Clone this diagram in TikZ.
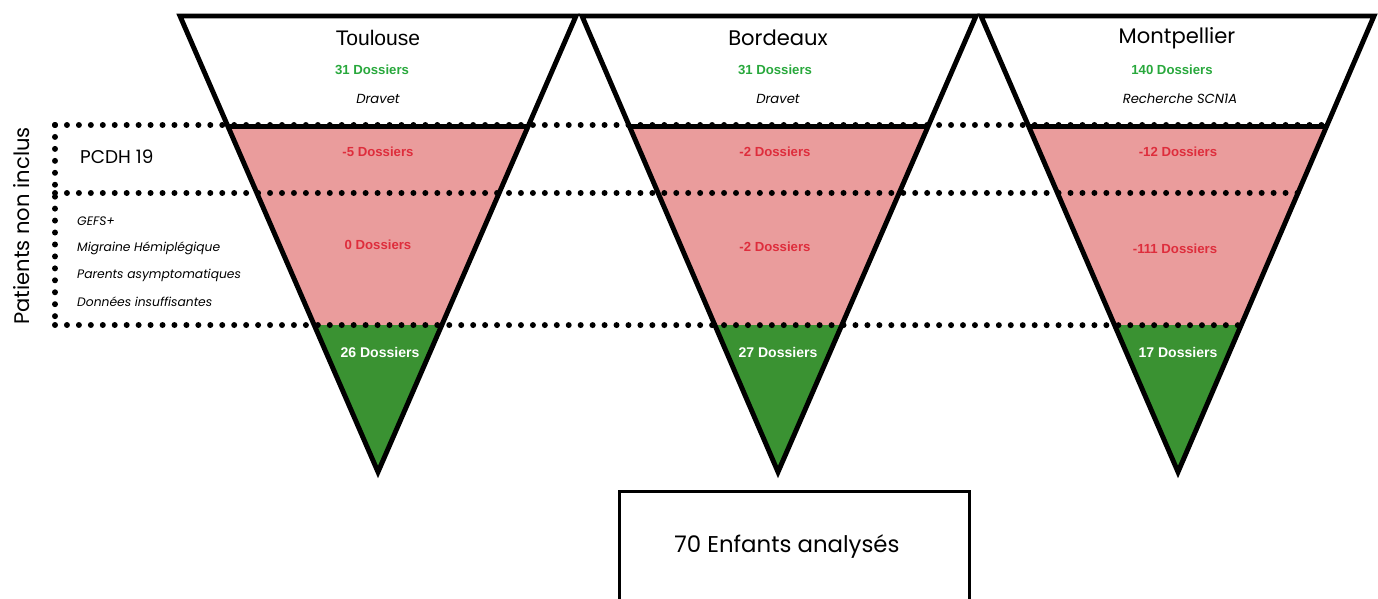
\documentclass[tikz,border=0pt]{standalone}
\usepackage{fontspec}
\setmainfont{Liberation Sans}
\newfontfamily\geo{Poppins}
\usetikzlibrary{calc}
\definecolor{rougepale}{RGB}{234,156,156}
\definecolor{rougetexte}{RGB}{222,45,60}
\definecolor{vertfonce}{RGB}{58,146,50}
\definecolor{verttexte}{RGB}{40,168,60}

\begin{document}
\begin{tikzpicture}[x=0.02cm,y=-0.02cm]
    \useasboundingbox (0,0) rectangle (1378,598);
    \clip (0,0) rectangle (1378,598);

    %%%%%%%%%%%%%%%%%%%%%%%%%%%%%%%%%%%%%% Entonnoirs
    \coordinate (A1) at (180,16);
    \coordinate (B1) at (576,16);
    \coordinate (C1) at (378,472);
    \coordinate (A2) at (582,16);
    \coordinate (B2) at (976,16);
    \coordinate (C2) at (778,472);
    \coordinate (A3) at (981,16);
    \coordinate (B3) at (1374,16);
    \coordinate (C3) at (1178,472);

    \tikzstyle{exclus}=[fill=rougepale]
    \tikzstyle{inclus}=[fill=vertfonce]
    \fill[exclus] ($(A1)!0.243!(C1)$)--($(B1)!0.243!(C1)$)--($(B1)!0.678!(C1)$)--($(A1)!0.678!(C1)$)--cycle;
    \fill[exclus] ($(A2)!0.243!(C2)$)--($(B2)!0.243!(C2)$)--($(B2)!0.678!(C2)$)--($(A2)!0.678!(C2)$)--cycle;
    \fill[exclus] ($(A3)!0.243!(C3)$)--($(B3)!0.243!(C3)$)--($(B3)!0.678!(C3)$)--($(A3)!0.678!(C3)$)--cycle;

    \fill[inclus] ($(A1)!0.678!(C1)$)--($(B1)!0.678!(C1)$)--(C1)--cycle;
    \fill[inclus] ($(A2)!0.678!(C2)$)--($(B2)!0.678!(C2)$)--(C2)--cycle;
    \fill[inclus] ($(A3)!0.678!(C3)$)--($(B3)!0.678!(C3)$)--(C3)--cycle;

    %%%%%%%%%%%%%%%%%%%%%%%%%%%%%%%%%%%%%% Pointilles
    \tikzstyle{pointille}=[line width=3.4pt,line cap=round,dash pattern=on 0pt off 6.8pt]
    \draw[pointille] (55,125)--($(B3)!0.239!(C3)$);
    \draw[pointille] (55,193)--($(B3)!0.388!(C3)$);
    \draw[pointille] (55,325)--($(B3)!0.678!(C3)$);
    \draw[pointille] (55,125)--(55,325);

    %%%%%%%%%%%%%%%%%%%%%%%%%%%%%%%%%%%%%% Contours
    \tikzstyle{bord}=[line width=2.8pt]
    \draw[bord] ($(A1)!0.243!(C1)$)--($(B1)!0.243!(C1)$);
    \draw[bord] ($(A2)!0.243!(C2)$)--($(B2)!0.243!(C2)$);
    \draw[bord] ($(A3)!0.243!(C3)$)--($(B3)!0.243!(C3)$);
    \draw[bord] (A1)--(B1)--(C1)--cycle;
    \draw[bord] (A2)--(B2)--(C2)--cycle;
    \draw[bord] (A3)--(B3)--(C3)--cycle;

    %%%%%%%%%%%%%%%%%%%%%%%%%%%%%%%%%%%%%% Textes
    \tikzstyle{ville}=[font=\fontsize{12}{14}\selectfont]
    \tikzstyle{total}=[text=verttexte,font=\bfseries\fontsize{7.5}{9}\selectfont]
    \tikzstyle{motif}=[font=\geo\itshape\fontsize{7.5}{9}\selectfont]
    \tikzstyle{retire}=[text=rougetexte,font=\bfseries\fontsize{7.5}{9}\selectfont]
    \tikzstyle{reste}=[text=white,font=\bfseries\fontsize{8}{10}\selectfont]
    \tikzstyle{critere}=[anchor=west,font=\geo\itshape\fontsize{7}{9}\selectfont]

    \node[ville] (toulouse) at (378,38) {Toulouse};
    \node[ville,font=\geo\fontsize{12}{14}\selectfont] (bordeaux) at (778,38) {Bordeaux};
    \node[ville,font=\geo\fontsize{12}{14}\selectfont] (montpellier) at (1177,38) {Montpellier};

    \node[total] (totT) at (372,70) {31 Dossiers};
    \node[total] (totB) at (775,70) {31 Dossiers};
    \node[total] (totM) at (1172,70) {140 Dossiers};

    \node[motif] (motT) at (378,99) {Dravet};
    \node[motif] (motB) at (778,99) {Dravet};
    \node[motif] (motM) at (1180,99) {Recherche SCN1A};

    \node[retire] (pcdhT) at (378,152) {-5 Dossiers};
    \node[retire] (pcdhB) at (775,152) {-2 Dossiers};
    \node[retire] (pcdhM) at (1178,152) {-12 Dossiers};

    \node[retire] (autT) at (378,245) {0 Dossiers};
    \node[retire] (autB) at (775,247) {-2 Dossiers};
    \node[retire] (autM) at (1175,249) {-111 Dossiers};

    \node[reste] (resT) at (380,352) {26 Dossiers};
    \node[reste] (resB) at (778,352) {27 Dossiers};
    \node[reste] (resM) at (1178,352) {17 Dossiers};

    \node[anchor=west,font=\geo\fontsize{10.5}{12}\selectfont] (pcdh) at (74,157) {PCDH 19};
    \node[critere] (gefs) at (71,221) {GEFS+};
    \node[critere] (migraine) at (71,248) {Migraine Hémiplégique};
    \node[critere] (parents) at (71,275) {Parents asymptomatiques};
    \node[critere] (donnees) at (71,302) {Données insuffisantes};

    \node[rotate=90,font=\geo\fontsize{12}{14}\selectfont] (nonInclus) at (22,226) {Patients non inclus};

    %%%%%%%%%%%%%%%%%%%%%%%%%%%%%%%%%%%%%% Bilan
    \node[draw,line width=1.7pt,minimum width=7cm,minimum height=2.28cm,anchor=north west] (bilan) at (618,490) {};
    \node[font=\geo\fontsize{13}{15}\selectfont] (enfants) at (787,547) {70 Enfants analysés};
\end{tikzpicture}
\end{document}
